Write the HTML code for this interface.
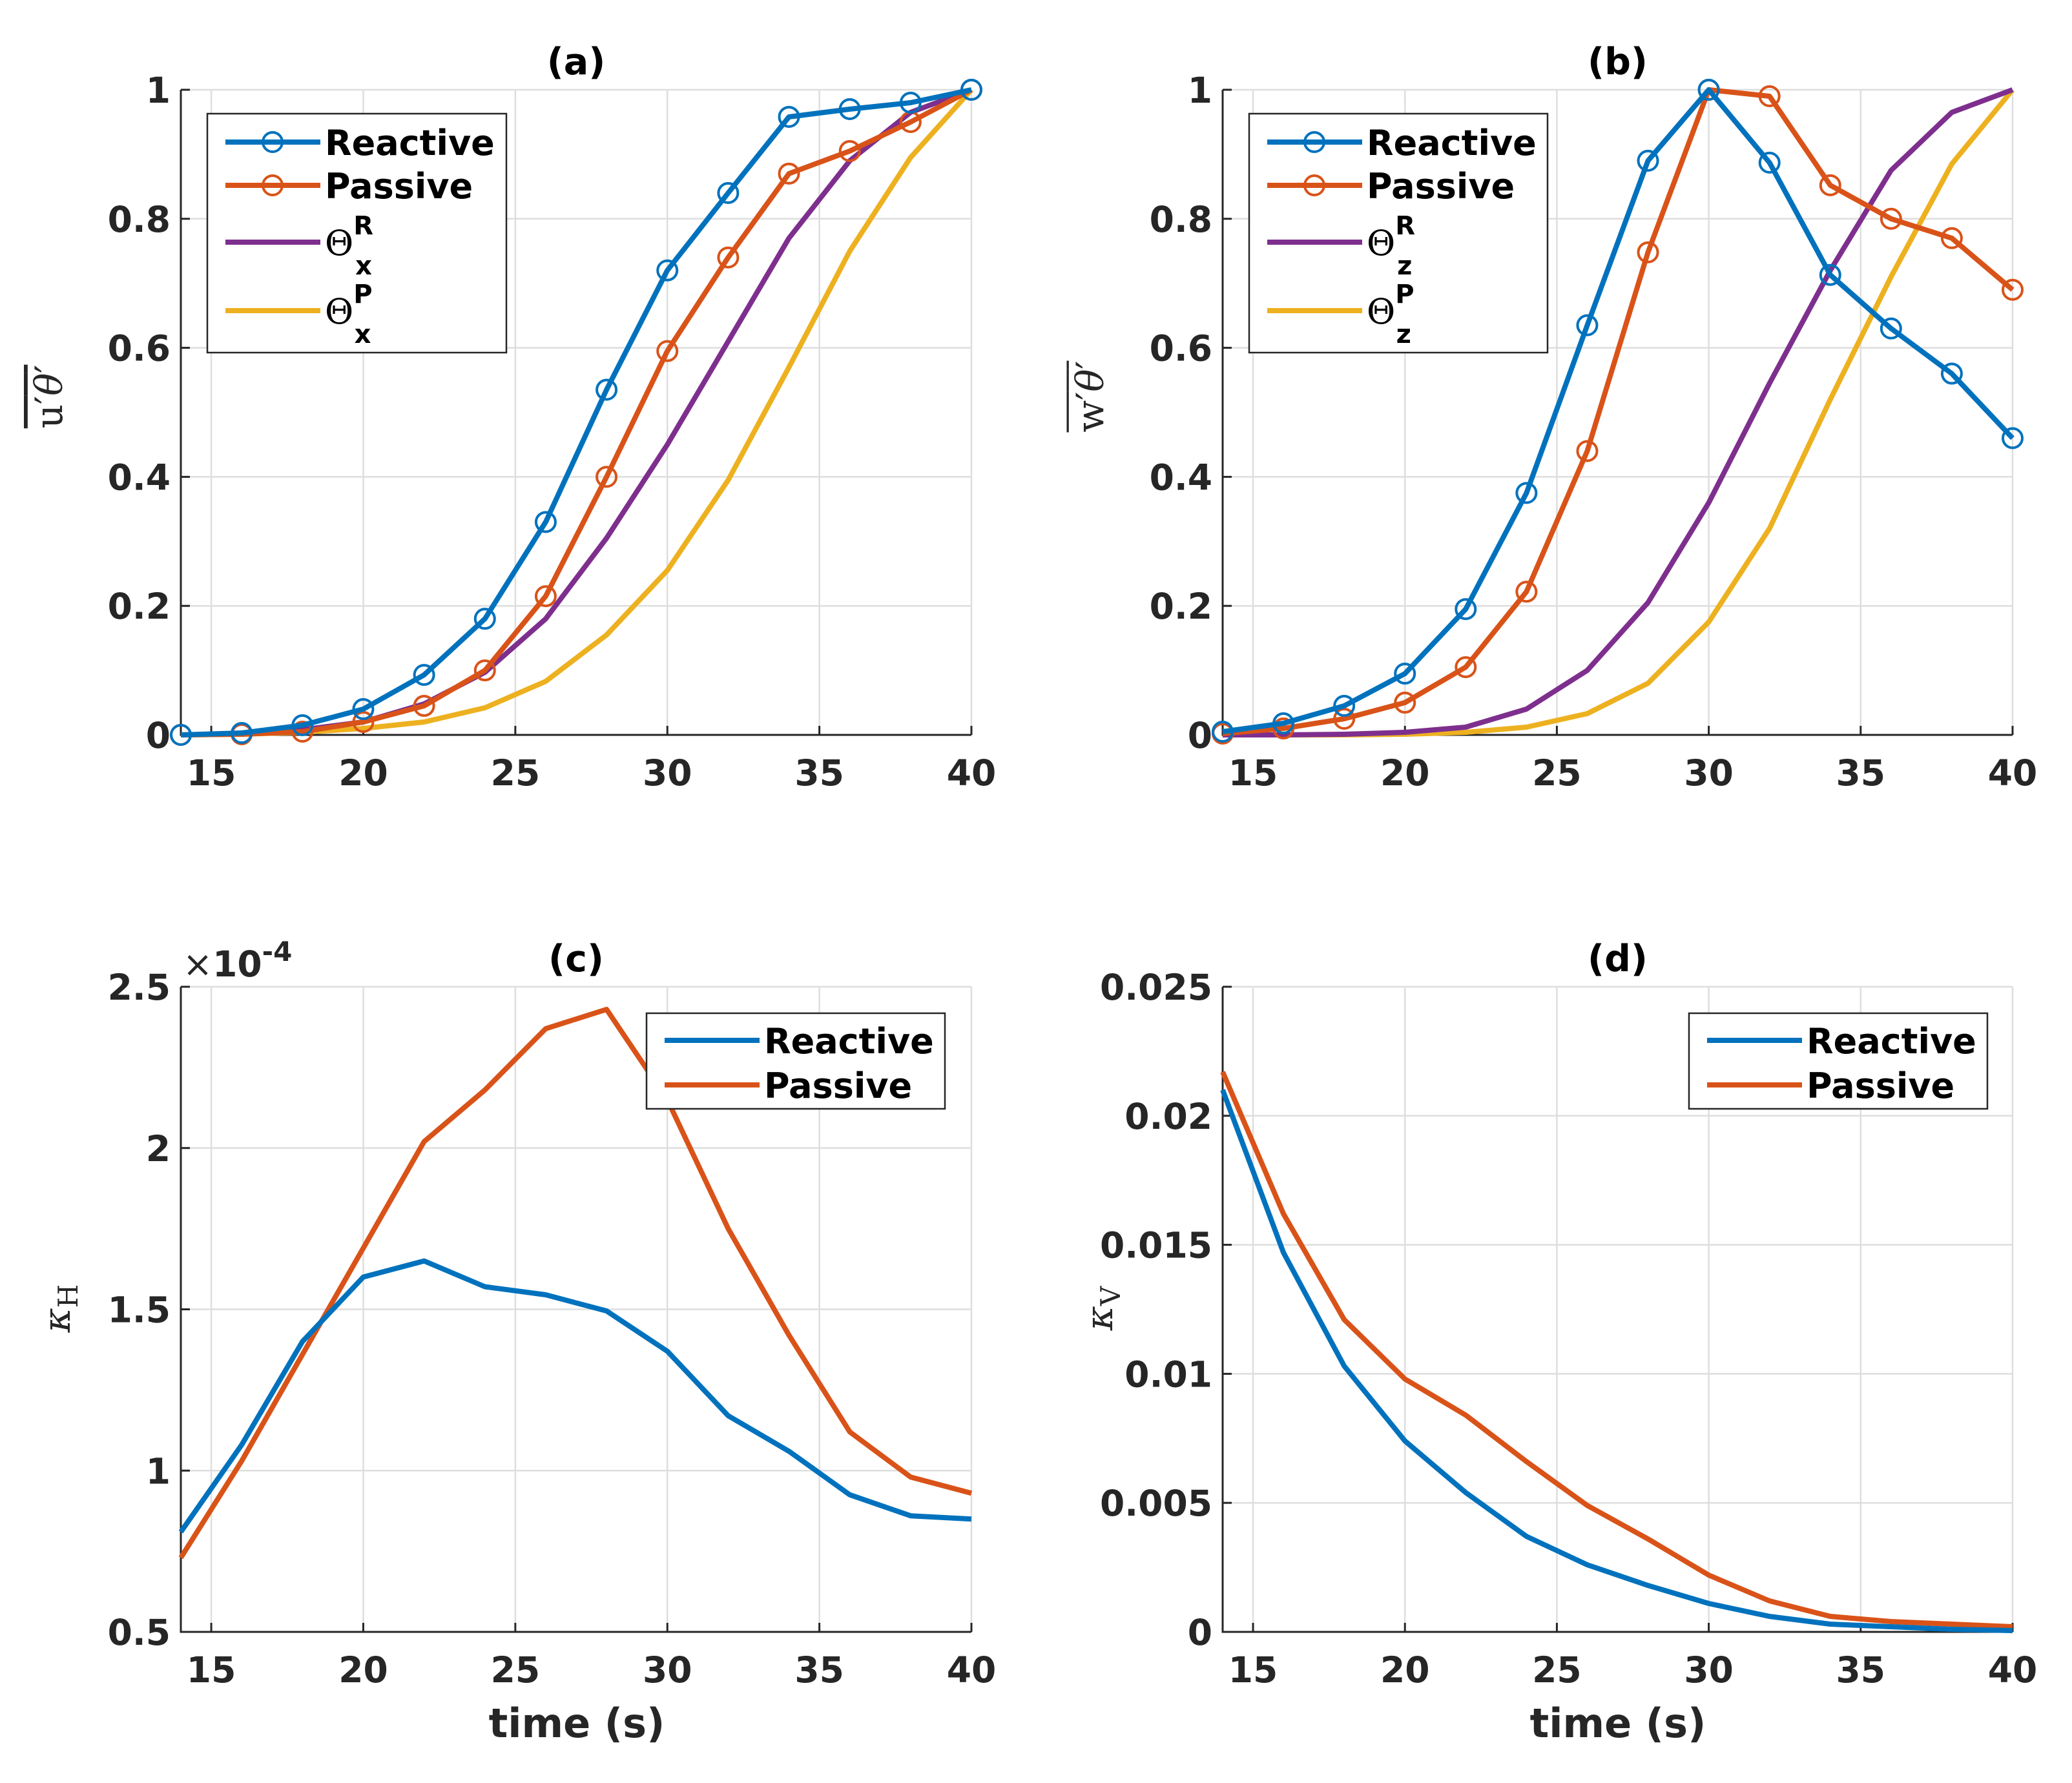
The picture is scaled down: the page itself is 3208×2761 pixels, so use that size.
<!DOCTYPE html>
<html><head><meta charset="utf-8">
<style>
html,body{margin:0;padding:0;background:#fff;}
svg{display:block;font-family:"DejaVu Sans","Liberation Sans",sans-serif;}
</style></head>
<body>
<svg id="fig" width="3208" height="2761" viewBox="0 0 3208 2761" xmlns="http://www.w3.org/2000/svg"></svg>
<script>
const times=[14,16,18,20,22,24,26,28,30,32,34,36,38,40];
const xTicks=[15,20,25,30,35,40];
const aReactive=[0,0.003,0.015,0.04,0.093,0.18,0.33,0.535,0.72,0.84,0.958,0.97,0.98,1.0];
const aPassive=[0,0.001,0.005,0.02,0.045,0.1,0.215,0.4,0.595,0.74,0.87,0.905,0.95,1.0];
const aThetaR=[0,0.002,0.008,0.02,0.048,0.097,0.18,0.305,0.45,0.61,0.77,0.89,0.965,1.0];
const aThetaP=[0,0.001,0.004,0.01,0.02,0.042,0.083,0.155,0.255,0.395,0.57,0.75,0.895,1.0];
const bReactive=[0.005,0.018,0.045,0.095,0.195,0.375,0.635,0.89,1.0,0.887,0.713,0.63,0.56,0.46];
const bPassive=[0.002,0.01,0.025,0.05,0.105,0.222,0.44,0.748,1.0,0.99,0.852,0.8,0.77,0.69];
const bThetaR=[0,0,0.001,0.004,0.012,0.04,0.1,0.205,0.36,0.545,0.72,0.875,0.965,1.0];
const bThetaP=[0,0,0,0.001,0.004,0.012,0.033,0.08,0.175,0.32,0.52,0.71,0.885,1.0];
const cReactive=[0.81,1.08,1.4,1.6,1.65,1.57,1.545,1.495,1.37,1.17,1.06,0.925,0.86,0.85];
const cPassive=[0.73,1.03,1.36,1.69,2.02,2.18,2.37,2.43,2.15,1.75,1.42,1.12,0.98,0.93];
const dReactive=[0.021,0.0147,0.0103,0.0074,0.0054,0.0037,0.0026,0.0018,0.0011,0.0006,0.0003,0.0002,0.0001,0.00005];
const dPassive=[0.0217,0.0162,0.0121,0.0098,0.0084,0.0066,0.0049,0.0036,0.0022,0.0012,0.0006,0.0004,0.0003,0.0002];
const yTicksAB=[0,0.2,0.4,0.6,0.8,1];
const yTickLabelsAB=["0","0.2","0.4","0.6","0.8","1"];
const yTicksC=[0.5,1,1.5,2,2.5];
const yTickLabelsC=["0.5","1","1.5","2","2.5"];
const yTicksD=[0,0.005,0.01,0.015,0.02,0.025];
const yTickLabelsD=["0","0.005","0.01","0.015","0.02","0.025"];

const NS="http://www.w3.org/2000/svg";
const svg=document.getElementById('fig');
const BLUE="#0072BD",ORANGE="#D95319",PURPLE="#7E2F8E",YELLOW="#EDB120";
function mk(tag,attrs,parent){const e=document.createElementNS(NS,tag);for(const k in attrs)e.setAttribute(k,attrs[k]);(parent||svg).appendChild(e);return e;}

function panel(id,box,ymin,ymax,yTicks,yLabels,title){
  const g=mk('g',{});
  
  
  const sx=v=>box.x0+(v-14)/(40-14)*(box.x1-box.x0);
  const sy=v=>box.y1-(v-ymin)/(ymax-ymin)*(box.y1-box.y0);
  xTicks.forEach(t=>{const l=mk('line',{x1:sx(t),x2:sx(t),y1:box.y0,y2:box.y1,stroke:'#dedede','stroke-width':2.5},g);
    });
  yTicks.forEach(t=>{const l=mk('line',{x1:box.x0,x2:box.x1,y1:sy(t),y2:sy(t),stroke:'#dedede','stroke-width':2.5},g);
    });
  const ax=mk('path',{d:`M${box.x0},${box.y0} L${box.x0},${box.y1} L${box.x1},${box.y1}`,fill:'none',stroke:'#262626','stroke-width':3},g);
  
  xTicks.forEach(t=>{mk('line',{x1:sx(t),x2:sx(t),y1:box.y1,y2:box.y1-14,stroke:'#262626','stroke-width':3},g);
    const tx=mk('text',{x:sx(t),y:box.y1+78,'text-anchor':'middle','font-size':55,'font-weight':'bold',fill:'#262626'},g);
    tx.textContent=t;});
  yTicks.forEach((t,i)=>{mk('line',{x1:box.x0,x2:box.x0+14,y1:sy(t),y2:sy(t),stroke:'#262626','stroke-width':3},g);
    const tx=mk('text',{x:box.x0-16,y:sy(t)+20,'text-anchor':'end','font-size':55,'font-weight':'bold',fill:'#262626'},g);
    tx.textContent=yLabels[i];});
  const tt=mk('text',{x:(box.x0+box.x1)/2,y:box.y0-24,'text-anchor':'middle','font-size':57,'font-weight':'bold',fill:'#000'},g);
  tt.textContent=title;
  return {g,sx,sy};
}
function series(p,vals,color,markers,name){
  const pts=times.map((t,i)=>p.sx(t).toFixed(1)+','+p.sy(vals[i]).toFixed(1)).join(' ');
  const pl=mk('polyline',{points:pts,fill:'none',stroke:color,'stroke-width':8,'stroke-linejoin':'round'},p.g);
  
  
  if(markers){times.forEach((t,i)=>{const c=mk('circle',{cx:p.sx(t),cy:p.sy(vals[i]),r:15,fill:'none',stroke:color,'stroke-width':4},p.g);
    
    });}
}
function legend(p,x,y,w,h,entries){
  const lg=mk('g',{},p.g);
  
  
  mk('rect',{x:x,y:y,width:w,height:h,fill:'#fff',stroke:'#262626','stroke-width':2.5},lg);
  entries.forEach(e=>{
    const ey=y+e.dy;
    mk('line',{x1:x+28,x2:x+175,y1:ey,y2:ey,stroke:e.color,'stroke-width':8},lg);
    if(e.marker)mk('circle',{cx:x+101,cy:ey,r:15,fill:'none',stroke:e.color,'stroke-width':4},lg);
    const t=mk('text',{x:x+182,y:ey+20,'font-size':54,'font-weight':'bold',fill:'#000'},lg);
    
    
    if(e.sub){t.innerHTML=`<tspan font-family="DejaVu Serif, serif" font-weight="normal">Θ</tspan><tspan dy="-32" font-size="40">${e.sup}</tspan><tspan dx="-28" dy="62" font-size="40">${e.sub}</tspan>`;}
    else t.textContent=e.label;
  });
}
const pa=panel('a',{x0:280,x1:1504,y0:139,y1:1138},0,1,yTicksAB,yTickLabelsAB,'(a)');
series(pa,aThetaP,YELLOW,false,'theta-p');
series(pa,aThetaR,PURPLE,false,'theta-r');
series(pa,aPassive,ORANGE,true,'passive');
series(pa,aReactive,BLUE,true,'reactive');
legend(pa,321,176,463,370,[{color:BLUE,marker:true,label:'Reactive',dy:44},{color:ORANGE,marker:true,label:'Passive',dy:111},{color:PURPLE,sub:'x',sup:'R',dy:199},{color:YELLOW,sub:'x',sup:'P',dy:305}]);

const pb=panel('b',{x0:1893,x1:3116,y0:139,y1:1138},0,1,yTicksAB,yTickLabelsAB,'(b)');
series(pb,bThetaP,YELLOW,false,'theta-p');
series(pb,bThetaR,PURPLE,false,'theta-r');
series(pb,bPassive,ORANGE,true,'passive');
series(pb,bReactive,BLUE,true,'reactive');
legend(pb,1934,176,462,370,[{color:BLUE,marker:true,label:'Reactive',dy:44},{color:ORANGE,marker:true,label:'Passive',dy:111},{color:PURPLE,sub:'z',sup:'R',dy:199},{color:YELLOW,sub:'z',sup:'P',dy:305}]);

const pc=panel('c',{x0:280,x1:1504,y0:1528,y1:2527},0.5,2.5,yTicksC,yTickLabelsC,'(c)');
series(pc,cPassive,ORANGE,false,'passive');
series(pc,cReactive,BLUE,false,'reactive');
legend(pc,1001,1569,462,148,[{color:BLUE,label:'Reactive',dy:42},{color:ORANGE,label:'Passive',dy:111}]);

const pd=panel('d',{x0:1893,x1:3116,y0:1528,y1:2527},0,0.025,yTicksD,yTickLabelsD,'(d)');
series(pd,dPassive,ORANGE,false,'passive');
series(pd,dReactive,BLUE,false,'reactive');
legend(pd,2615,1569,462,148,[{color:BLUE,label:'Reactive',dy:42},{color:ORANGE,label:'Passive',dy:111}]);

function txt(attrs,html,name){const t=mk('text',attrs);t.innerHTML=html;return t;}
txt({x:283,y:1512,'font-size':55,fill:'#262626'},'×<tspan font-weight="bold">10</tspan><tspan dy="-24" font-size="42" font-weight="bold">-4</tspan>','exponent-label');
txt({x:893,y:2690,'text-anchor':'middle','font-size':62,'font-weight':'bold',fill:'#262626'},'time (s)','x-axis-title-c');
txt({x:2505,y:2690,'text-anchor':'middle','font-size':62,'font-weight':'bold',fill:'#262626'},'time (s)','x-axis-title-d');
txt({x:0,y:0,transform:'translate(96,614) rotate(-90)','text-anchor':'middle','font-size':58,'font-family':'DejaVu Serif, serif',fill:'#262626'},'<tspan text-decoration="overline">u′<tspan font-style="italic">θ</tspan>′</tspan>','y-axis-title-a');
txt({x:0,y:0,transform:'translate(1708,614) rotate(-90)','text-anchor':'middle','font-size':58,'font-family':'DejaVu Serif, serif',fill:'#262626'},'<tspan text-decoration="overline">w′<tspan font-style="italic">θ</tspan>′</tspan>','y-axis-title-b');
txt({x:0,y:0,transform:'translate(108,2026) rotate(-90)','text-anchor':'middle','font-size':58,'font-family':'DejaVu Serif, serif',fill:'#262626'},'<tspan font-style="italic">κ</tspan><tspan dy="12" font-size="42">H</tspan>','y-axis-title-c');
txt({x:0,y:0,transform:'translate(1722,2026) rotate(-90)','text-anchor':'middle','font-size':58,'font-family':'DejaVu Serif, serif',fill:'#262626'},'<tspan font-style="italic">κ</tspan><tspan dy="12" font-size="42">V</tspan>','y-axis-title-d');
</script>
</body></html>
